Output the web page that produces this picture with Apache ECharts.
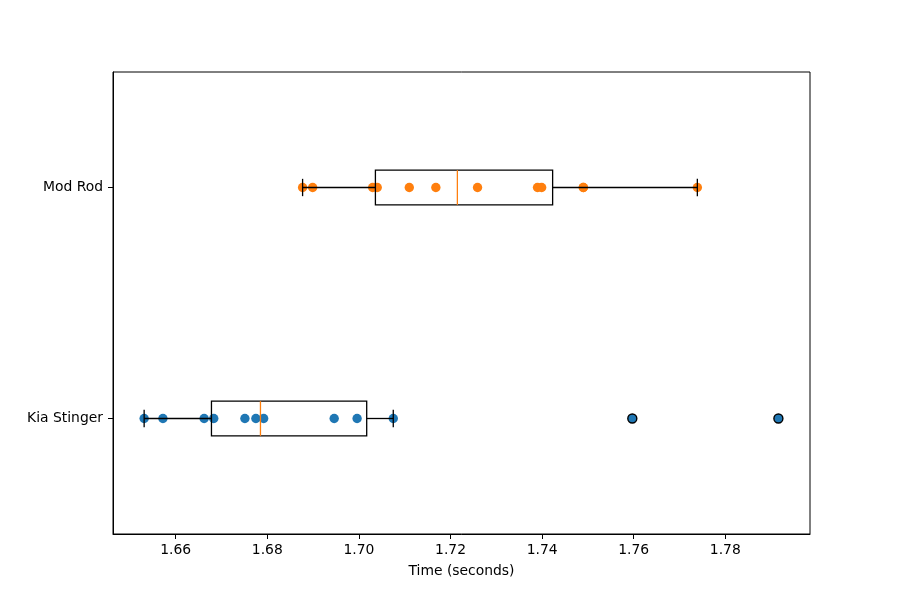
<!DOCTYPE html>
<html>
<head>
    <meta charset="utf-8"/>
    <title>Time (seconds)</title>
    <script src="https://cdn.jsdelivr.net/npm/echarts@6/dist/echarts.min.js"></script>
    <style>
        html, body { margin: 0; padding: 0; background: #fff; }
        #chart { width: 900px; height: 600px; }
    </style>
</head>
<body>
<div id="chart"></div>
<script>
    // categories bottom -> top, like the matplotlib positions 1 and 2
    var categories = ['Kia Stinger', 'Mod Rod'];

    // individual runs
    var kiaTimes = [1.6531, 1.6572, 1.6662, 1.6683, 1.6751, 1.6775, 1.6792, 1.6946, 1.6996, 1.7075];
    var kiaOutliers = [1.7597, 1.7916];
    var modTimes = [1.6877, 1.6899, 1.7030, 1.7040, 1.7110, 1.7168, 1.7259, 1.7390, 1.7399, 1.7490, 1.7490, 1.7739];

    // whisker low, Q1, median, Q3, whisker high
    var kiaBox = [1.6531, 1.6678, 1.6785, 1.7017, 1.7075];
    var modBox = [1.6877, 1.7036, 1.7215, 1.7423, 1.7739];

    var xTicks = [1.66, 1.68, 1.70, 1.72, 1.74, 1.76, 1.78];
    var xMin = 1.6463, xMax = 1.7985;

    var font = 'DejaVu Sans';
    var chart = echarts.init(document.getElementById('chart'));

    function toPoints(list, cat) {
        var out = [];
        for (var i = 0; i < list.length; i++) out.push([list[i], cat]);
        return out;
    }

    // box + whiskers + caps + median, drawn through the axes
    function renderBox(params, api) {
        var cat = api.value(0);
        var lo = api.coord([api.value(1), cat]);
        var q1 = api.coord([api.value(2), cat]);
        var med = api.coord([api.value(3), cat]);
        var q3 = api.coord([api.value(4), cat]);
        var hi = api.coord([api.value(5), cat]);
        var band = api.size([0, 1])[1];
        var h = band * 0.15;
        var cap = h / 2;
        var y = lo[1];
        var line = { stroke: '#000', lineWidth: 1.3 };
        return {
            type: 'group',
            children: [
                { type: 'line', shape: { x1: lo[0], y1: y, x2: q1[0], y2: y }, style: line },
                { type: 'line', shape: { x1: q3[0], y1: y, x2: hi[0], y2: y }, style: line },
                { type: 'line', shape: { x1: lo[0], y1: y - cap / 2, x2: lo[0], y2: y + cap / 2 }, style: line },
                { type: 'line', shape: { x1: hi[0], y1: y - cap / 2, x2: hi[0], y2: y + cap / 2 }, style: line },
                { type: 'rect', shape: { x: q1[0], y: y - h / 2, width: q3[0] - q1[0], height: h },
                  style: { fill: 'none', stroke: '#000', lineWidth: 1.3 } },
                { type: 'line', shape: { x1: med[0], y1: y - h / 2, x2: med[0], y2: y + h / 2 },
                  style: { stroke: '#ff7f0e', lineWidth: 1.3 } }
            ]
        };
    }

    var option = {
        animation: false,
        backgroundColor: '#fff',
        textStyle: { fontFamily: font },
        grid: {
            left: 113, right: 90, top: 72, bottom: 66,
            show: true, borderColor: '#000', borderWidth: 1, backgroundColor: 'transparent'
        },
        xAxis: {
            type: 'value',
            min: xMin,
            max: xMax,
            name: 'Time (seconds)',
            nameLocation: 'middle',
            nameGap: 30,
            nameTextStyle: { color: '#000', fontSize: 13.9, fontFamily: font },
            axisLine: { show: true, lineStyle: { color: '#000', width: 1 } },
            axisTick: { show: true, length: 5, customValues: xTicks, lineStyle: { color: '#000' } },
            axisLabel: {
                customValues: xTicks,
                color: '#000', fontSize: 13.9, fontFamily: font, margin: 9,
                formatter: function (v) { return v.toFixed(2); }
            },
            splitLine: { show: false }
        },
        yAxis: {
            type: 'category',
            data: categories,
            boundaryGap: true,
            axisLine: { show: true, lineStyle: { color: '#000', width: 1 } },
            axisTick: { show: true, alignWithLabel: true, length: 5, lineStyle: { color: '#000' } },
            axisLabel: { color: '#000', fontSize: 13.9, fontFamily: font, margin: 10 },
            splitLine: { show: false }
        },
        series: [
            {
                type: 'scatter',
                data: toPoints(kiaTimes, 0),
                symbolSize: 9.4,
                itemStyle: { color: '#1f77b4', opacity: 1 },
                z: 2
            },
            {
                type: 'scatter',
                data: toPoints(modTimes, 1),
                symbolSize: 9.4,
                itemStyle: { color: '#ff7f0e', opacity: 1 },
                z: 2
            },
            {
                type: 'scatter',
                data: toPoints(kiaOutliers, 0),
                symbolSize: 9,
                itemStyle: { color: '#1f77b4', borderColor: '#000', borderWidth: 1.4, opacity: 1 },
                z: 4
            },
            {
                type: 'custom',
                renderItem: renderBox,
                encode: { x: [1, 2, 3, 4, 5], y: 0 },
                data: [[0].concat(kiaBox), [1].concat(modBox)],
                z: 3
            }
        ]
    };

    chart.setOption(option);
</script>
</body>
</html>
